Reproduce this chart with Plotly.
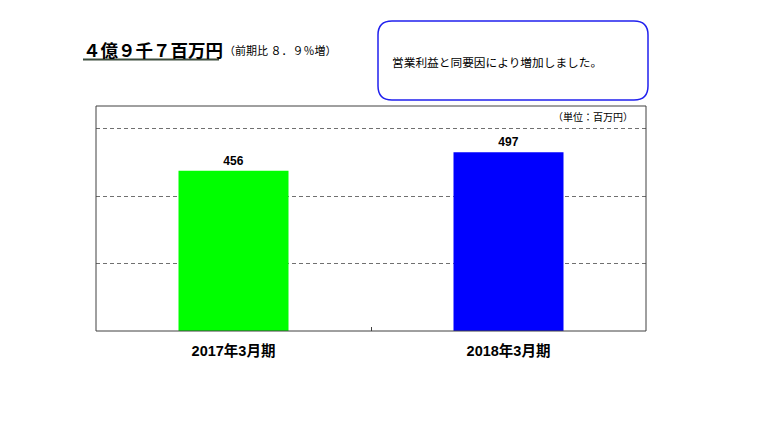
import plotly.graph_objects as go

W, H = 768, 432

categories = ["2017年3月期", "2018年3月期"]
values = [456, 497]
bar_colors = ["#00ff00", "#0000ff"]
grid_vals = [250, 400, 550]

title_text = "４億９千７百万円"
sub_text = "（前期比 ８．９％増）"
note_text = "営業利益と同要因により増加しました。"
unit_text = "（単位：百万円）"

JP = "Noto Sans CJK JP"
AR = "Liberation Sans, Arial, Noto Sans CJK JP"


def px(x):
    return x / W


def py(y):
    return 1 - y / H


def round_rect(x0, y0, x1, y1, r):
    # rounded box drawn in paper coords from pixel corners
    pts = [
        ("M", x0 + r, y0), ("L", x1 - r, y0), ("Q", x1, y0, x1, y0 + r),
        ("L", x1, y1 - r), ("Q", x1, y1, x1 - r, y1), ("L", x0 + r, y1),
        ("Q", x0, y1, x0, y1 - r), ("L", x0, y0 + r), ("Q", x0, y0, x0 + r, y0),
    ]
    out = []
    for p in pts:
        cmd = p[0]
        nums = p[1:]
        coords = []
        for i in range(0, len(nums), 2):
            coords.append(f"{px(nums[i]):.5f},{py(nums[i + 1]):.5f}")
        out.append(cmd + " " + " ".join(coords))
    return " ".join(out) + " Z"


fig = go.Figure()

fig.add_trace(go.Bar(
    x=categories, y=values,
    marker=dict(color=bar_colors, line=dict(width=0)),
    text=[str(v) for v in values],
    textposition="outside",
    textfont=dict(family=AR, size=12, color="black", weight="bold"),
    cliponaxis=False,
    width=0.4,
))

fig.update_layout(
    width=W, height=H,
    margin=dict(l=0, r=0, t=0, b=0),
    paper_bgcolor="white", plot_bgcolor="white",
    showlegend=False,
    xaxis=dict(
        domain=[px(96), px(646)],
        range=[-0.5, 1.5],
        showline=False, showgrid=False, zeroline=False,
        ticks="inside", tickson="boundaries", ticklen=4, tickcolor="#404040",
        tickfont=dict(family=AR, size=14.5, color="black", weight="bold"),
        ticklabelstandoff=9,
    ),
    yaxis=dict(
        domain=[py(331), py(127.15)],
        range=[100, 553],
        tickvals=grid_vals,
        showticklabels=False,
        showgrid=True, gridcolor="#707070", griddash="4px,3px", gridwidth=1,
        zeroline=False, showline=False,
    ),
)

# outer frame of the chart area
fig.add_shape(type="rect", xref="paper", yref="paper",
              x0=px(96), x1=px(646), y0=py(331), y1=py(106),
              line=dict(color="#404040", width=1), fillcolor="rgba(0,0,0,0)")

# rounded comment box
fig.add_shape(type="path", xref="paper", yref="paper",
              path=round_rect(378, 21, 648, 100, 14),
              line=dict(color="#2020ee", width=1.5), fillcolor="white")

# title underline
fig.add_shape(type="line", xref="paper", yref="paper",
              x0=px(83), x1=px(219), y0=py(59.5), y1=py(59.5),
              line=dict(color="#3a4a3a", width=2.2))

fig.add_annotation(text=title_text, xref="paper", yref="paper",
                   x=px(81), y=py(49), xanchor="left", yanchor="middle",
                   showarrow=False,
                   font=dict(family=JP, size=17.5, color="black", weight="bold"))
fig.add_annotation(text=sub_text, xref="paper", yref="paper",
                   x=px(222), y=py(50), xanchor="left", yanchor="middle",
                   showarrow=False,
                   font=dict(family=JP, size=11, color="black"))
fig.add_annotation(text=note_text, xref="paper", yref="paper",
                   x=px(390), y=py(61.5), xanchor="left", yanchor="middle",
                   showarrow=False,
                   font=dict(family=JP, size=11.7, color="black"))
fig.add_annotation(text=unit_text, xref="paper", yref="paper",
                   x=px(635), y=py(117), xanchor="right", yanchor="middle",
                   showarrow=False,
                   font=dict(family=JP, size=10, color="black"))

fig.write_html("out.html", config={"displayModeBar": False},
               post_script="document.body.style.margin='0';")
